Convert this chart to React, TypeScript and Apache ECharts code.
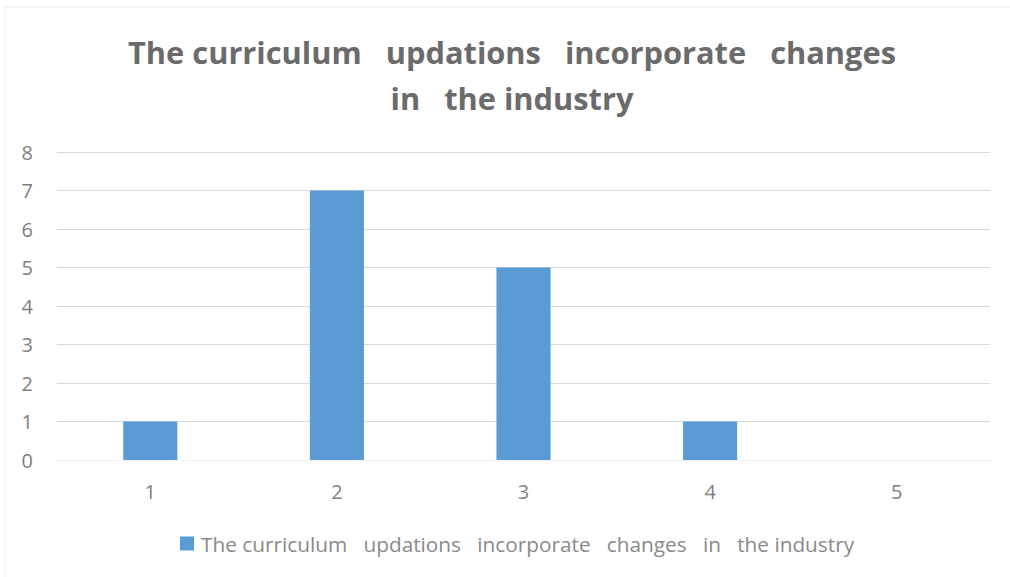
import React, { useEffect, useRef } from "react";
import * as echarts from "echarts";

const categories = ["1", "2", "3", "4", "5"];
const values = [1, 7, 5, 1, 0];
const seriesName = "The curriculum   updations   incorporate   changes   in   the industry";
const titleText = "The curriculum   updations   incorporate   changes\nin   the industry";

export default function App() {
  const ref = useRef<HTMLDivElement>(null);
  useEffect(() => {
    if (!ref.current) return;
    const chart = echarts.init(ref.current, undefined, { renderer: "svg" });
    const font = "Open Sans, Noto Sans, sans-serif";
    chart.setOption({
      animation: false,
      backgroundColor: "#ffffff",
      graphic: [
        {
          type: "rect",
          shape: { x: 5, y: 7, width: 1100, height: 700 },
          style: { fill: "none", stroke: "#eeeeee", lineWidth: 1 },
          silent: true,
          z: -1,
        },
      ],
      title: {
        text: titleText,
        left: 507,
        textAlign: "center",
        top: 24,
        textStyle: {
          fontFamily: font,
          fontWeight: "bold",
          fontSize: 30.8,
          lineHeight: 46,
          color: "#6b6b6b",
        },
      },
      grid: { left: 57, right: 20, top: 152, bottom: 117, containLabel: false },
      legend: {
        bottom: 18,
        left: 175,
        itemWidth: 14,
        itemHeight: 14,
        icon: "rect",
        textStyle: { fontFamily: font, fontSize: 20.8, color: "#8a8a8a", padding: [0, 0, 0, 2] },
        data: [seriesName],
      },
      xAxis: {
        type: "category",
        data: categories,
        axisLine: { show: true, lineStyle: { color: "#f0f0f0", width: 1 } },
        axisTick: { show: false },
        axisLabel: { fontFamily: font, fontSize: 20, color: "#7f7f7f", margin: 21 },
      },
      yAxis: {
        type: "value",
        min: 0,
        max: 8,
        interval: 1,
        axisLine: { show: false },
        axisTick: { show: false },
        axisLabel: { fontFamily: font, fontSize: 20, color: "#7f7f7f", margin: 24 },
        splitLine: { lineStyle: { color: "#d9d9d9", width: 1 } },
      },
      series: [
        {
          name: seriesName,
          type: "bar",
          data: values,
          barWidth: "29%",
          itemStyle: { color: "#5b9bd5" },
        },
      ],
    });
    return () => chart.dispose();
  }, []);
  return <div ref={ref} style={{ width: 1010, height: 577, position: "absolute", left: 0, top: 0 }} />;
}
